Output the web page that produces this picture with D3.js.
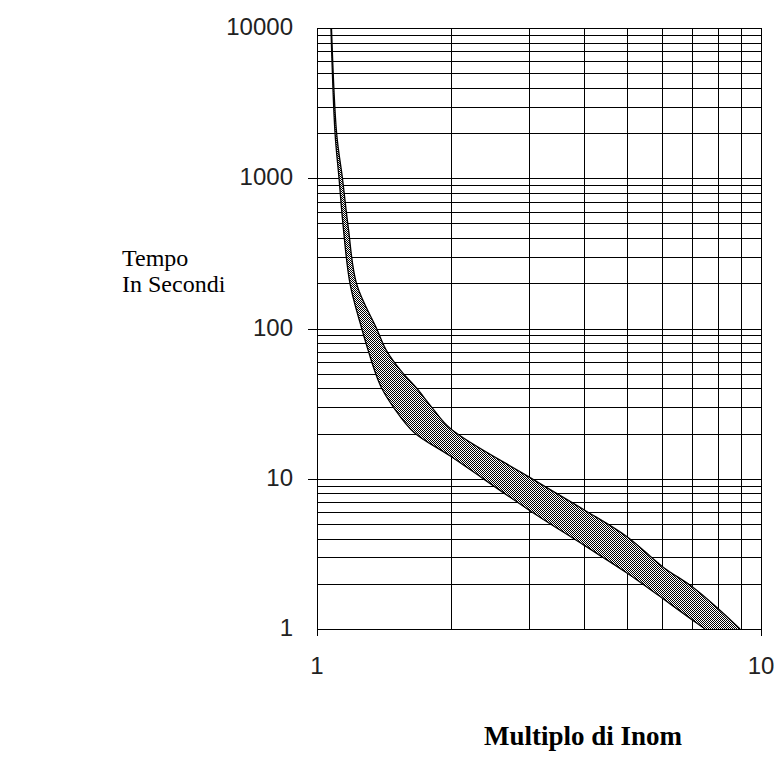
<!DOCTYPE html>
<html>
<head>
<meta charset="utf-8">
<script src="https://cdn.jsdelivr.net/npm/d3@7"></script>
<style>
  body { margin: 0; background: #fff; }
  svg { display: block; }
</style>
</head>
<body>
<div class="trip-chart"></div>
<script>
// tick labels
var yTickValues = [1, 10, 100, 1000, 10000];
var xTickValues = [1, 10];

// fast edge of the band (left / lower curve): multiple of Inom vs seconds
var fastX = [1.075, 1.098, 1.121, 1.146, 1.187, 1.261, 1.305, 1.351, 1.399, 1.486, 1.65, 2, 3, 4, 5, 6, 7, 7.48];
var fastT = [10000, 2000, 1000, 471, 198, 100, 71, 51.6, 40, 30, 20.5, 14.1, 6.2, 3.6, 2.35, 1.6, 1.15, 1];

// slow edge of the band (right / upper curve)
var slowX = [1.078, 1.107, 1.141, 1.176, 1.228, 1.362, 1.435, 1.551, 1.677, 1.812, 2, 3, 4, 5, 6, 7, 8, 8.97];
var slowT = [10000, 2000, 1000, 471, 198, 100, 71, 51.6, 40, 30, 21.5, 10.3, 6.2, 4.1, 2.6, 1.91, 1.37, 1];

var width = 774, height = 761;

var x = d3.scaleLog().domain([1, 10]).range([317, 761]);
var y = d3.scaleLog().domain([1, 10000]).range([629, 28]);

var svg = d3.select(".trip-chart").append("svg")
    .attr("width", width)
    .attr("height", height);

svg.append("rect").attr("width", width).attr("height", height).attr("fill", "#fff");

// dithered fill like the old bitmap chart
var defs = svg.append("defs");
var pat = defs.append("pattern")
    .attr("id", "dots")
    .attr("patternUnits", "userSpaceOnUse")
    .attr("width", 2).attr("height", 2);
pat.append("rect").attr("x", 0).attr("y", 0).attr("width", 1).attr("height", 1).attr("fill", "#000");
pat.append("rect").attr("x", 1).attr("y", 1).attr("width", 1).attr("height", 1).attr("fill", "#000");
pat.append("rect").attr("x", 1).attr("y", 0).attr("width", 1).attr("height", 1).attr("fill", "#fff");
pat.append("rect").attr("x", 0).attr("y", 1).attr("width", 1).attr("height", 1).attr("fill", "#fff");

// grid
var yGrid = [];
for (var p = 0; p < 4; p++) {
  for (var k = 1; k <= 9; k++) yGrid.push(k * Math.pow(10, p));
}
yGrid.push(10000);
var xGrid = d3.range(1, 11);

var grid = svg.append("g").attr("shape-rendering", "crispEdges").attr("stroke", "#000").attr("stroke-width", 1);
grid.selectAll("line.h").data(yGrid).enter().append("line")
    .attr("class", "h")
    .attr("x1", x(1)).attr("x2", x(10))
    .attr("y1", function(d){ return Math.round(y(d)) + 0.5; })
    .attr("y2", function(d){ return Math.round(y(d)) + 0.5; });
grid.selectAll("line.v").data(xGrid).enter().append("line")
    .attr("class", "v")
    .attr("y1", y(1)).attr("y2", y(10000))
    .attr("x1", function(d){ return Math.round(x(d)) + 0.5; })
    .attr("x2", function(d){ return Math.round(x(d)) + 0.5; });

// small ticks outside the frame
grid.selectAll("line.yt").data([10, 100, 1000]).enter().append("line")
    .attr("x1", x(1) - 9).attr("x2", x(1))
    .attr("y1", function(d){ return Math.round(y(d)) + 0.5; })
    .attr("y2", function(d){ return Math.round(y(d)) + 0.5; });
grid.selectAll("line.xt").data(xTickValues).enter().append("line")
    .attr("y1", y(1)).attr("y2", y(1) + 7)
    .attr("x1", function(d){ return Math.round(x(d)) + 0.5; })
    .attr("x2", function(d){ return Math.round(x(d)) + 0.5; });

// band
var slowPts = slowX.map(function(v, i){ return [x(v), y(slowT[i])]; });
var fastPts = fastX.map(function(v, i){ return [x(v), y(fastT[i])]; });

var smooth = d3.line().curve(d3.curveCatmullRom.alpha(0.5));
var slowPath = smooth(slowPts);
var fastBack = smooth(fastPts.slice().reverse());
var bandPath = slowPath + "L" + fastBack.slice(1) + "Z";

svg.append("path")
    .attr("d", bandPath)
    .attr("fill", "url(#dots)")
    .attr("stroke", "none");

[slowPath, smooth(fastPts)].forEach(function(d){
  svg.append("path")
      .attr("d", d)
      .attr("fill", "none")
      .attr("stroke", "#000")
      .attr("stroke-width", 1.3);
});

// tick labels
svg.selectAll("text.yl").data(yTickValues).enter().append("text")
    .attr("x", 293)
    .attr("y", function(d){ return y(d) + 7; })
    .attr("text-anchor", "end")
    .attr("font-family", "Liberation Sans, Arial, sans-serif")
    .attr("font-size", 24)
    .attr("fill", "#222")
    .text(function(d){ return d; });

svg.selectAll("text.xl").data(xTickValues).enter().append("text")
    .attr("x", function(d){ return x(d); })
    .attr("y", 674)
    .attr("text-anchor", "middle")
    .attr("font-family", "Liberation Sans, Arial, sans-serif")
    .attr("font-size", 24)
    .attr("fill", "#222")
    .text(function(d){ return d; });

// axis titles
var yTitle = svg.append("text")
    .attr("font-family", "Liberation Serif, Times New Roman, serif")
    .attr("font-size", 24)
    .attr("fill", "#000");
yTitle.append("tspan").attr("x", 122).attr("y", 266).text("Tempo");
yTitle.append("tspan").attr("x", 122).attr("y", 292).text("In Secondi");

svg.append("text")
    .attr("x", 583)
    .attr("y", 745)
    .attr("text-anchor", "middle")
    .attr("font-family", "Liberation Serif, Times New Roman, serif")
    .attr("font-weight", "bold")
    .attr("font-size", 27)
    .attr("fill", "#000")
    .text("Multiplo di Inom");
</script>
</body>
</html>
